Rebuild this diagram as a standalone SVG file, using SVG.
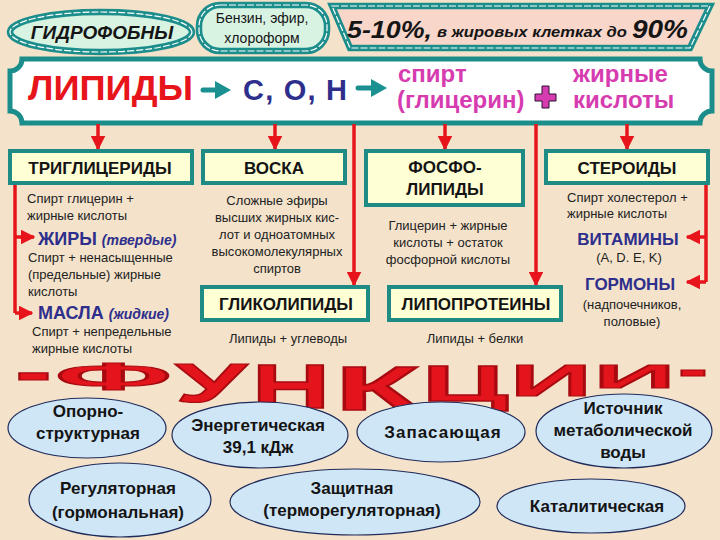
<svg xmlns="http://www.w3.org/2000/svg" width="720" height="540" viewBox="0 0 720 540">
<defs>
<style>
text{font-family:"Liberation Sans",Arial,sans-serif;}
.bg{fill:#F4E2CA;}
.teal{fill:none;stroke:#1B8E8C;stroke-width:6.5;}
.rail{fill:none;stroke:#FFFFFF;stroke-width:1.2;stroke-dasharray:7 2;}
.box{fill:#FFFFD6;stroke:#1E8C84;stroke-width:4;}
.bt{font-size:17px;font-weight:bold;fill:#141414;text-anchor:middle;}
.sm{font-size:13px;fill:#222;}
.smc{font-size:13px;fill:#222;text-anchor:middle;}
.blue{font-weight:bold;fill:#2E2F8C;}
.red{stroke:#E8141C;stroke-width:3.5;fill:none;}
.ell{fill:#CFE6F7;stroke:#1F2B5A;stroke-width:1.2;}
.et{font-size:17px;font-weight:bold;fill:#141414;text-anchor:middle;}
.mag{font-size:24px;font-weight:bold;fill:#D63CAF;}
.pct{font-style:italic;font-weight:bold;fill:#151515;}
.fn{font-weight:bold;fill:#E4141C;stroke:#A80A10;stroke-width:1.2;}
</style>
<marker id="ah" viewBox="0 0 10 10" refX="9" refY="5" markerWidth="4.2" markerHeight="4.2" orient="auto" markerUnits="strokeWidth">
<path d="M0,0 L10,5 L0,10 Z" fill="#E8141C"/>
</marker>
</defs>
<rect class="bg" x="0" y="0" width="720" height="540"/>

<g id="hydrophobic">
<ellipse cx="101" cy="32" rx="91" ry="20" fill="#D8F3E2"/>
<ellipse class="teal" cx="101" cy="32" rx="91" ry="20"/>
<ellipse class="rail" cx="101" cy="32" rx="91" ry="20"/>
<text x="102" y="39" font-size="19" font-style="italic" font-weight="bold" fill="#151515" text-anchor="middle">ГИДРОФОБНЫ</text>
</g>

<g id="solvents">
<rect x="199" y="5" width="128" height="46" rx="21" fill="#D8F3E2"/>
<rect class="teal" x="199" y="5" width="128" height="46" rx="21"/>
<rect class="rail" x="199" y="5" width="128" height="46" rx="21"/>
<text x="262" y="23" font-size="14" fill="#151515" text-anchor="middle">Бензин, эфир,</text>
<text x="262" y="43" font-size="14" fill="#151515" text-anchor="middle">хлороформ</text>
</g>

<g id="percent">
<polygon points="332,6 710,6 690,48 350,48" fill="#F8D6C9"/>
<polygon class="teal" points="332,6 710,6 690,48 350,48"/>
<polygon class="rail" points="332,6 710,6 690,48 350,48"/>
<text class="pct" x="347" y="38" font-size="23" textLength="85" lengthAdjust="spacingAndGlyphs">5-10%,</text>
<text class="pct" x="437" y="37" font-size="15" textLength="190" lengthAdjust="spacingAndGlyphs">в жировых клетках до</text>
<text class="pct" x="632" y="38" font-size="25" textLength="56" lengthAdjust="spacingAndGlyphs">90%</text>
</g>

<g id="lipids-band">
<path d="M22,59 H700 A12,12 0 0 0 712,71 V111 A12,12 0 0 0 700,123 H22 A12,12 0 0 0 10,111 V71 A12,12 0 0 0 22,59 Z" fill="#FFFFFF" stroke="#1B8E8C" stroke-width="5"/>
<text x="28" y="100" font-size="35" font-weight="bold" fill="#E8141C" textLength="165" lengthAdjust="spacingAndGlyphs">ЛИПИДЫ</text>
<path d="M203,90 H220" stroke="#1B9090" stroke-width="5" stroke-linecap="round"/>
<path d="M215,81 L231,90 L215,99 Z" fill="#1B9090"/>
<text x="243" y="100" font-size="29" font-weight="bold" fill="#2E2F8C" textLength="104" lengthAdjust="spacing">С, О, Н</text>
<path d="M358,88 H375" stroke="#1B9090" stroke-width="5" stroke-linecap="round"/>
<path d="M371,79 L387,88 L371,97 Z" fill="#1B9090"/>
<text class="mag" x="398" y="82">спирт</text>
<text class="mag" x="397" y="108">(глицерин)</text>
<path d="M542,86 H549 V94 H556 V101 H549 V108 H542 V101 H535 V94 H542 Z" fill="#D63CAF" stroke="#2A1030" stroke-width="1"/>
<text class="mag" x="573" y="82">жирные</text>
<text class="mag" x="573" y="108">кислоты</text>
</g>

<g id="connectors">
<line class="red" x1="98" y1="124" x2="98" y2="149" marker-end="url(#ah)"/>
<line class="red" x1="275" y1="124" x2="275" y2="149" marker-end="url(#ah)"/>
<line class="red" x1="354" y1="124" x2="354" y2="285" marker-end="url(#ah)"/>
<line class="red" x1="445" y1="124" x2="445" y2="149" marker-end="url(#ah)"/>
<line class="red" x1="536" y1="124" x2="536" y2="285" marker-end="url(#ah)"/>
<line class="red" x1="627" y1="124" x2="627" y2="149" marker-end="url(#ah)"/>
<path class="red" d="M15,183 V313"/>
<line class="red" x1="15" y1="237" x2="34" y2="237" marker-end="url(#ah)"/>
<line class="red" x1="15" y1="313" x2="32" y2="313" marker-end="url(#ah)"/>
<path class="red" d="M706,184 V282"/>
<line class="red" x1="706" y1="237" x2="687" y2="237" marker-end="url(#ah)"/>
<line class="red" x1="706" y1="282" x2="687" y2="282" marker-end="url(#ah)"/>
</g>

<g id="triglycerides">
<rect class="box" x="10" y="151" width="182" height="32"/>
<text class="bt" x="100" y="174">ТРИГЛИЦЕРИДЫ</text>
<text class="sm" x="27" y="203">Спирт глицерин +</text>
<text class="sm" x="27" y="220">жирные кислоты</text>
<text x="38" y="245" fill="#2E2F8C"><tspan class="blue" font-size="18">ЖИРЫ</tspan><tspan font-size="14" font-weight="bold" font-style="italic" dx="5">(твердые)</tspan></text>
<text class="sm" x="28" y="262">Спирт + ненасыщенные</text>
<text class="sm" x="28" y="279">(предельные) жирные</text>
<text class="sm" x="28" y="296">кислоты</text>
<text x="38" y="319" fill="#2E2F8C"><tspan class="blue" font-size="18">МАСЛА</tspan><tspan font-size="14" font-weight="bold" font-style="italic" dx="5">(жидкие)</tspan></text>
<text class="sm" x="32" y="336">Спирт + непредельные</text>
<text class="sm" x="32" y="353">жирные кислоты</text>
</g>

<g id="waxes">
<rect class="box" x="203" y="151" width="142" height="32"/>
<text class="bt" x="274" y="174" font-size="18">ВОСКА</text>
<text class="smc" x="277" y="205">Сложные эфиры</text>
<text class="smc" x="277" y="222">высших жирных кис-</text>
<text class="smc" x="277" y="239">лот и одноатомных</text>
<text class="smc" x="277" y="256">высокомолекулярных</text>
<text class="smc" x="277" y="273">спиртов</text>
</g>

<g id="phospholipids">
<rect class="box" x="366" y="151" width="157" height="54"/>
<text class="bt" x="445" y="173">ФОСФО-</text>
<text class="bt" x="445" y="195">ЛИПИДЫ</text>
<text class="smc" x="448" y="230">Глицерин + жирные</text>
<text class="smc" x="448" y="247">кислоты + остаток</text>
<text class="smc" x="448" y="264">фосфорной кислоты</text>
</g>

<g id="steroids">
<rect class="box" x="546" y="151" width="162" height="32"/>
<text class="bt" x="627" y="174">СТЕРОИДЫ</text>
<text class="sm" x="567" y="202">Спирт холестерол +</text>
<text class="sm" x="567" y="218">жирные кислоты</text>
<text class="blue" x="628" y="245" font-size="17" text-anchor="middle">ВИТАМИНЫ</text>
<text class="smc" x="629" y="262">(A, D. E, K)</text>
<text class="blue" x="630" y="290" font-size="17" text-anchor="middle">ГОРМОНЫ</text>
<text class="smc" x="632" y="309">(надпочечников,</text>
<text class="smc" x="632" y="326">половые)</text>
</g>

<g id="glycolipids">
<rect class="box" x="202" y="287" width="166" height="33"/>
<text class="bt" x="286" y="310">ГЛИКОЛИПИДЫ</text>
<text class="smc" x="288" y="343">Липиды + углеводы</text>
</g>

<g id="lipoproteins">
<rect class="box" x="389" y="287" width="172" height="33"/>
<text class="bt" x="476" y="310">ЛИПОПРОТЕИНЫ</text>
<text class="smc" x="475" y="343">Липиды + белки</text>
</g>

<g id="functions-title">
<text class="fn" x="15" y="392" font-size="60" textLength="37" lengthAdjust="spacingAndGlyphs">-</text>
<text class="fn" x="55" y="390" font-size="39" textLength="117" lengthAdjust="spacingAndGlyphs">Ф</text>
<text class="fn" x="175" y="402" font-size="56" textLength="72" lengthAdjust="spacingAndGlyphs">У</text>
<text class="fn" transform="translate(252,408) scale(1,1.35)" font-size="47" textLength="78" lengthAdjust="spacingAndGlyphs">Н</text>
<text class="fn" transform="translate(335,410) scale(1,1.35)" font-size="47" textLength="85" lengthAdjust="spacingAndGlyphs">К</text>
<text class="fn" transform="translate(422,401) scale(1,1.2)" font-size="42" textLength="86" lengthAdjust="spacingAndGlyphs">Ц</text>
<text class="fn" x="510" y="396" font-size="45" textLength="82" lengthAdjust="spacingAndGlyphs">И</text>
<text class="fn" x="594" y="388" font-size="34" textLength="81" lengthAdjust="spacingAndGlyphs">И</text>
<text class="fn" x="678" y="386" font-size="50" textLength="30" lengthAdjust="spacingAndGlyphs">-</text>
</g>

<g id="f-support">
<ellipse class="ell" cx="87" cy="428" rx="79" ry="30"/>
<text class="et" x="88" y="417">Опорно-</text>
<text class="et" x="88" y="439">структурная</text>
</g>
<g id="f-energy">
<ellipse class="ell" cx="260" cy="435" rx="88" ry="33"/>
<text class="et" x="258" y="431">Энергетическая</text>
<text class="et" x="258" y="453">39,1 кДж</text>
</g>
<g id="f-storage">
<ellipse class="ell" cx="441" cy="432" rx="84" ry="30"/>
<text class="et" x="443" y="438" letter-spacing="1">Запасающая</text>
</g>
<g id="f-water">
<ellipse class="ell" cx="624" cy="431" rx="88" ry="37"/>
<text class="et" x="623" y="414">Источник</text>
<text class="et" x="623" y="436">метаболической</text>
<text class="et" x="623" y="458">воды</text>
</g>
<g id="f-regulatory">
<ellipse class="ell" cx="120" cy="500" rx="91" ry="37"/>
<text class="et" x="118" y="494">Регуляторная</text>
<text class="et" x="118" y="518">(гормональная)</text>
</g>
<g id="f-protective">
<ellipse class="ell" cx="355" cy="502" rx="125" ry="33"/>
<text class="et" x="352" y="494">Защитная</text>
<text class="et" x="352" y="516">(терморегуляторная)</text>
</g>
<g id="f-catalytic">
<ellipse class="ell" cx="591" cy="506" rx="94" ry="27"/>
<text class="et" x="597" y="512">Каталитическая</text>
</g>
</svg>
